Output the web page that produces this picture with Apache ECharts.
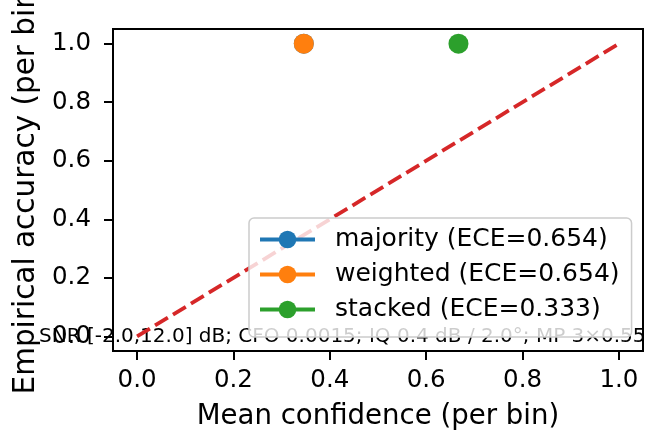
<!DOCTYPE html>
<html>
<head>
<meta charset="utf-8">
<script src="https://cdn.jsdelivr.net/npm/echarts@6/dist/echarts.min.js"></script>
<style>
  html, body { margin: 0; padding: 0; background: #fff; }
  #main { width: 652px; height: 438px; }
</style>
</head>
<body>
<div id="main"></div>
<script>
// 数据
var tickValues = [0, 0.2, 0.4, 0.6, 0.8, 1.0];
var seriesNames = ['majority (ECE=0.654)', 'weighted (ECE=0.654)', 'stacked (ECE=0.333)'];
var seriesColors = ['#1f77b4', '#ff7f0e', '#2ca02c'];
var confidence = [0.346, 0.346, 0.667];
var accuracy = [1.0, 1.0, 1.0];
var diagonalX = [0, 1];
var diagonalY = [0, 1];
var noteText = 'SNR [-2.0,12.0] dB; CFO 0.0015; IQ 0.4 dB / 2.0°; MP 3×0.55';

var FONT = 'DejaVu Sans';

var myChart = echarts.init(document.getElementById('main'));

var series = [];
series.push({
    name: 'diag',
    type: 'line',
    data: diagonalX.map(function (x, i) { return [x, diagonalY[i]]; }),
    showSymbol: false,
    symbol: 'none',
    silent: true,
    lineStyle: { color: '#d62728', width: 3.8, type: [15, 6] },
    z: 2
});
seriesNames.forEach(function (name, i) {
    series.push({
        name: name,
        type: 'line',
        data: [[confidence[i], accuracy[i]]],
        symbol: 'circle',
        symbolSize: 20,
        itemStyle: { color: seriesColors[i] },
        lineStyle: { color: seriesColors[i], width: 4 },
        z: 3
    });
});

function axisCommon() {
    return {
        type: 'value',
        min: -0.05,
        max: 1.05,
        splitLine: { show: false },
        axisLine: { show: true, onZero: false, lineStyle: { color: '#000', width: 2 } },
        axisTick: { show: true, length: 9, customValues: tickValues, lineStyle: { color: '#000', width: 2 } },
        axisLabel: {
            customValues: tickValues,
            color: '#000',
            fontFamily: FONT,
            fontSize: 24.5,
            formatter: function (v) { return v.toFixed(1); }
        },
        nameLocation: 'middle',
        nameTextStyle: { color: '#000', fontFamily: FONT, fontSize: 27.6 }
    };
}

var xAxis = axisCommon();
xAxis.name = 'Mean confidence (per bin)';
xAxis.nameGap = 52;
xAxis.axisLabel.margin = 17;

var yAxis = axisCommon();
yAxis.name = 'Empirical accuracy (per bin)';
yAxis.nameGap = 72;
yAxis.axisLabel.margin = 22;
yAxis.nameTextStyle = { color: '#000', fontFamily: FONT, fontSize: 29.5, padding: [0, 0, 0, 7] };

var option = {
    animation: false,
    backgroundColor: '#fff',
    grid: {
        left: 113, right: 9, top: 29, bottom: 87,
        outerBoundsMode: 'none',
        containLabel: false,
        show: true, borderColor: '#000', borderWidth: 2, backgroundColor: 'transparent'
    },
    xAxis: xAxis,
    yAxis: yAxis,
    legend: {
        data: seriesNames,
        orient: 'vertical',
        left: 249,
        top: 218,
        itemWidth: 55,
        itemHeight: 22,
        itemGap: 10,
        padding: [9, 12, 15, 9],
        backgroundColor: 'rgba(255,255,255,0.8)',
        borderColor: '#cccccc',
        borderWidth: 1.5,
        borderRadius: 5,
        lineStyle: { width: 4 },
        textStyle: { color: '#000', fontFamily: FONT, fontSize: 25, padding: [0, 0, 0, 15] },
        z: 4
    },
    graphic: [{
        type: 'text',
        x: 39,
        y: 337,
        z: 1,
        silent: true,
        style: { text: noteText, fill: '#000', font: '20px "DejaVu Sans"', verticalAlign: 'middle' }
    }],
    series: series
};

myChart.setOption(option);
</script>
</body>
</html>
